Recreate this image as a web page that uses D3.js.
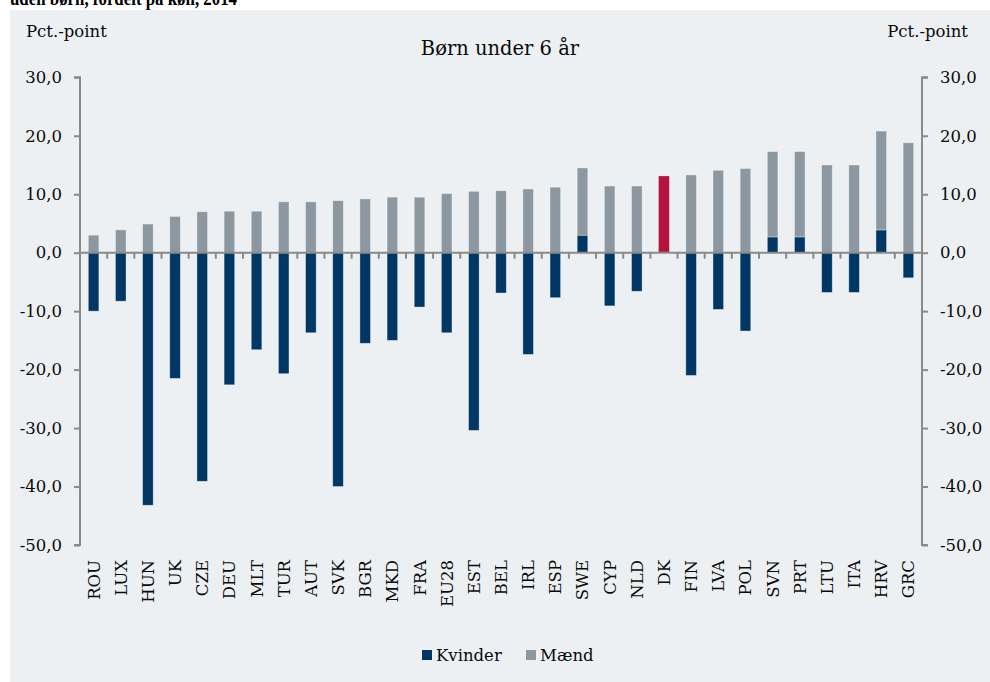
<!DOCTYPE html>
<head>
    <meta charset="utf-8">
    <script src="https://d3js.org/d3.v7.min.js"></script>
    <style>
        body { margin: 0; background: #fff; }
        svg { display: block; }
    </style>
</head>
<body>
<script>
    // data (pct.-point), sorted as in the picture
    const countries = ["ROU", "LUX", "HUN", "UK", "CZE", "DEU", "MLT", "TUR", "AUT", "SVK",
        "BGR", "MKD", "FRA", "EU28", "EST", "BEL", "IRL", "ESP", "SWE", "CYP", "NLD", "DK",
        "FIN", "LVA", "POL", "SVN", "PRT", "LTU", "ITA", "HRV", "GRC"];
    const kvinder = [-10.0, -8.3, -43.2, -21.5, -39.1, -22.6, -16.6, -20.7, -13.7, -40.0,
        -15.5, -15.0, -9.3, -13.7, -30.4, -6.9, -17.4, -7.7, 3.0, -9.1, -6.6, 0,
        -21.0, -9.7, -13.4, 2.7, 2.7, -6.8, -6.8, 3.9, -4.3];
    const maend = [3.0, 3.9, 4.9, 6.2, 7.0, 7.1, 7.1, 8.7, 8.7, 8.9,
        9.2, 9.5, 9.5, 10.1, 10.5, 10.6, 10.9, 11.2, 11.5, 11.4, 11.4, 13.1,
        13.3, 14.1, 14.4, 14.6, 14.6, 15.0, 15.0, 16.9, 18.8];
    const yTicks = [30, 20, 10, 0, -10, -20, -30, -40, -50];
    const highlight = "DK";

    const width = 990, height = 682;
    const plotL = 80, plotR = 922, plotT = 77.3, plotB = 545;
    const serif = "'DejaVu Serif', serif";
    const ink = "#0a0a0a";

    const svg = d3.select("body").append("svg")
        .attr("width", width).attr("height", height);

    // panel and the heading that is cut off at the top
    svg.append("rect").attr("x", 10).attr("y", 10)
        .attr("width", width - 10).attr("height", height - 10)
        .attr("fill", "#ecf0f3");
    svg.append("text").attr("x", 10).attr("y", 5)
        .attr("font-family", "'Liberation Serif', serif").attr("font-weight", "bold")
        .attr("font-size", 22).attr("fill", "#000")
        .attr("textLength", 227).attr("lengthAdjust", "spacingAndGlyphs")
        .text("uden børn, fordelt på køn, 2014");

    const x = d3.scaleBand().domain(countries).range([plotL, plotR]).paddingInner(0.61).paddingOuter(0.305);
    const y = d3.scaleLinear().domain([-50, 30]).range([plotB, plotT]);

    // stacked values: positives stack on each other, negatives go down from 0
    const rows = countries.map((c, i) => {
        const k = kvinder[i], m = maend[i];
        const mBase = k > 0 ? k : 0;
        return { c, k, m, kBase: 0, kTop: k, mBase, mTop: mBase + m };
    });

    const barStroke = "rgba(255,255,255,0.45)";
    const g = svg.append("g");

    g.selectAll(".k").data(rows.filter(d => d.k !== 0)).join("rect")
        .attr("x", d => x(d.c)).attr("width", x.bandwidth())
        .attr("y", d => y(Math.max(d.kBase, d.kTop)))
        .attr("height", d => Math.abs(y(d.kBase) - y(d.kTop)))
        .attr("fill", "#003764").attr("stroke", barStroke).attr("stroke-width", 0.8);

    g.selectAll(".m").data(rows).join("rect")
        .attr("x", d => x(d.c)).attr("width", x.bandwidth())
        .attr("y", d => y(d.mTop))
        .attr("height", d => y(d.mBase) - y(d.mTop))
        .attr("fill", d => d.c === highlight ? "#b5123c" : "#8c979f")
        .attr("stroke", d => d.c === highlight ? "none" : barStroke).attr("stroke-width", 0.8);

    // axes
    const fmt = d => d3.format(".1f")(d).replace(".", ",").replace("−", "-");
    const axisColor = "#8a8a8a";

    const yl = svg.append("g").attr("transform", `translate(${plotL},0)`)
        .call(d3.axisLeft(y).tickValues(yTicks).tickFormat(fmt).tickSize(6).tickPadding(12));
    const yr = svg.append("g").attr("transform", `translate(${plotR},0)`)
        .call(d3.axisRight(y).tickValues(yTicks).tickFormat(fmt).tickSize(6).tickPadding(12));
    [yl, yr].forEach(a => {
        a.select(".domain").attr("stroke", axisColor).attr("stroke-width", 2);
        a.selectAll(".tick line").attr("stroke", axisColor).attr("stroke-width", 2);
        a.selectAll("text").attr("font-family", serif).attr("font-size", 16.5).attr("fill", ink);
    });
    yl.select(".domain").attr("d", `M-6,${plotT}H0V${plotB}H-6`);
    yr.select(".domain").attr("d", `M6,${plotT}H0V${plotB}H6`);

    // zero line with category ticks
    const step = x.step();
    svg.append("line").attr("x1", plotL).attr("x2", plotR)
        .attr("y1", y(0)).attr("y2", y(0))
        .attr("stroke", axisColor).attr("stroke-width", 2);
    svg.append("g").selectAll("line").data(d3.range(1, countries.length)).join("line")
        .attr("x1", i => plotL + i * step).attr("x2", i => plotL + i * step)
        .attr("y1", y(0)).attr("y2", y(0) + 6)
        .attr("stroke", axisColor).attr("stroke-width", 2);

    // category labels, rotated
    svg.append("g").selectAll("text").data(countries).join("text")
        .attr("transform", d => `translate(${x(d) + x.bandwidth() / 2 + 6},560) rotate(-90)`)
        .attr("text-anchor", "end")
        .attr("font-family", serif).attr("font-size", 16.5).attr("fill", ink)
        .text(d => d);

    // unit labels and title
    svg.append("text").attr("x", 26).attr("y", 37)
        .attr("font-family", serif).attr("font-size", 16.5).attr("fill", ink).text("Pct.-point");
    svg.append("text").attr("x", 968).attr("y", 37).attr("text-anchor", "end")
        .attr("font-family", serif).attr("font-size", 16.5).attr("fill", ink).text("Pct.-point");
    svg.append("text").attr("x", 500).attr("y", 55).attr("text-anchor", "middle")
        .attr("font-family", serif).attr("font-size", 19.5).attr("fill", ink).text("Børn under 6 år");

    // legend
    const legend = [{ name: "Kvinder", color: "#003764", x: 422 }, { name: "Mænd", color: "#8c979f", x: 526 }];
    const lg = svg.append("g").selectAll("g").data(legend).join("g")
        .attr("transform", d => `translate(${d.x},650)`);
    lg.append("rect").attr("width", 10).attr("height", 10).attr("fill", d => d.color);
    lg.append("text").attr("x", 14).attr("y", 11)
        .attr("font-family", serif).attr("font-size", 16.5).attr("fill", ink).text(d => d.name);
</script>
</body>
